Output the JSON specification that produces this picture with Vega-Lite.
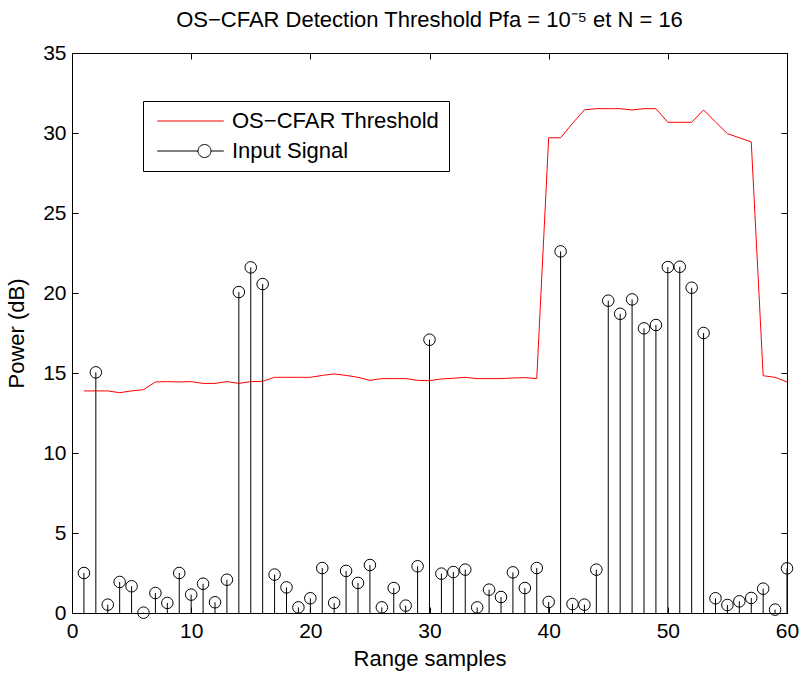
{
  "$schema": "https://vega.github.io/schema/vega-lite/v6.json",
  "width": 715,
  "height": 560,
  "autosize": {"type": "none"},
  "padding": {"left": 72, "top": 53, "right": 13, "bottom": 62},
  "background": "white",
  "title": {
    "text": "OS−CFAR Detection Threshold Pfa = 10⁻⁵ et N = 16",
    "font": "Liberation Sans",
    "fontSize": 22,
    "fontWeight": "normal",
    "color": "black",
    "anchor": "middle",
    "frame": "group",
    "baseline": "top",
    "offset": 0,
    "dy": -10
  },
  "config": {
    "view": {"stroke": "black", "strokeWidth": 1},
    "axis": {
      "domainColor": "black",
      "tickColor": "black",
      "labelColor": "black",
      "titleColor": "black",
      "labelFont": "Liberation Sans",
      "titleFont": "Liberation Sans",
      "labelFontSize": 21,
      "titleFontSize": 22,
      "titleFontWeight": "normal",
      "grid": false,
      "tickSize": -6,
      "labelFlush": false,
      "minExtent": 0
    }
  },
  "data": {
    "values": [
      {"x": 1, "signal": 2.5, "threshold": 13.88},
      {"x": 2, "signal": 15.04, "threshold": 13.88},
      {"x": 3, "signal": 0.52, "threshold": 13.88},
      {"x": 4, "signal": 1.94, "threshold": 13.77},
      {"x": 5, "signal": 1.67, "threshold": 13.88},
      {"x": 6, "signal": 0.02, "threshold": 13.96},
      {"x": 7, "signal": 1.25, "threshold": 14.44},
      {"x": 8, "signal": 0.63, "threshold": 14.46},
      {"x": 9, "signal": 2.5, "threshold": 14.44},
      {"x": 10, "signal": 1.15, "threshold": 14.46},
      {"x": 11, "signal": 1.83, "threshold": 14.35},
      {"x": 12, "signal": 0.67, "threshold": 14.35},
      {"x": 13, "signal": 2.08, "threshold": 14.46},
      {"x": 14, "signal": 20.06, "threshold": 14.35},
      {"x": 15, "signal": 21.6, "threshold": 14.46},
      {"x": 16, "signal": 20.56, "threshold": 14.48},
      {"x": 17, "signal": 2.4, "threshold": 14.73},
      {"x": 18, "signal": 1.6, "threshold": 14.73},
      {"x": 19, "signal": 0.35, "threshold": 14.73},
      {"x": 20, "signal": 0.92, "threshold": 14.73},
      {"x": 21, "signal": 2.81, "threshold": 14.85},
      {"x": 22, "signal": 0.63, "threshold": 14.94},
      {"x": 23, "signal": 2.63, "threshold": 14.85},
      {"x": 24, "signal": 1.88, "threshold": 14.73},
      {"x": 25, "signal": 3.0, "threshold": 14.54},
      {"x": 26, "signal": 0.35, "threshold": 14.65},
      {"x": 27, "signal": 1.56, "threshold": 14.65},
      {"x": 28, "signal": 0.46, "threshold": 14.65},
      {"x": 29, "signal": 2.92, "threshold": 14.54},
      {"x": 30, "signal": 17.08, "threshold": 14.52},
      {"x": 31, "signal": 2.46, "threshold": 14.63},
      {"x": 32, "signal": 2.56, "threshold": 14.67},
      {"x": 33, "signal": 2.71, "threshold": 14.73},
      {"x": 34, "signal": 0.35, "threshold": 14.65},
      {"x": 35, "signal": 1.46, "threshold": 14.65},
      {"x": 36, "signal": 1.0, "threshold": 14.65},
      {"x": 37, "signal": 2.54, "threshold": 14.69},
      {"x": 38, "signal": 1.56, "threshold": 14.71},
      {"x": 39, "signal": 2.81, "threshold": 14.65},
      {"x": 40, "signal": 0.69, "threshold": 29.7},
      {"x": 41, "signal": 22.6, "threshold": 29.7},
      {"x": 42, "signal": 0.56, "threshold": 30.6},
      {"x": 43, "signal": 0.52, "threshold": 31.45},
      {"x": 44, "signal": 2.71, "threshold": 31.52},
      {"x": 45, "signal": 19.52, "threshold": 31.52},
      {"x": 46, "signal": 18.7, "threshold": 31.52},
      {"x": 47, "signal": 19.6, "threshold": 31.44},
      {"x": 48, "signal": 17.79, "threshold": 31.52},
      {"x": 49, "signal": 18.0, "threshold": 31.52},
      {"x": 50, "signal": 21.62, "threshold": 30.67},
      {"x": 51, "signal": 21.64, "threshold": 30.67},
      {"x": 52, "signal": 20.33, "threshold": 30.67},
      {"x": 53, "signal": 17.5, "threshold": 31.44},
      {"x": 54, "signal": 0.92, "threshold": 30.69},
      {"x": 55, "signal": 0.5, "threshold": 29.96},
      {"x": 56, "signal": 0.73, "threshold": 29.7},
      {"x": 57, "signal": 0.94, "threshold": 29.44},
      {"x": 58, "signal": 1.52, "threshold": 14.83},
      {"x": 59, "signal": 0.21, "threshold": 14.73},
      {"x": 60, "signal": 2.79, "threshold": 14.44}
    ]
  },
  "layer": [
    {
      "mark": {"type": "rule", "color": "black", "strokeWidth": 1},
      "encoding": {
        "x": {"field": "x", "type": "quantitative", "scale": {"domain": [0, 60], "nice": false},
              "axis": {"orient": "bottom", "title": "Range samples", "values": [0, 10, 20, 30, 40, 50, 60], "labelPadding": 13, "titlePadding": 7}},
        "y": {"field": "signal", "type": "quantitative", "scale": {"domain": [0, 35], "nice": false},
              "axis": {"orient": "left", "title": "Power (dB)", "values": [0, 5, 10, 15, 20, 25, 30, 35], "labelPadding": 12, "titlePadding": 14}},
        "y2": {"datum": 0}
      }
    },
    {
      "mark": {"type": "point", "filled": false, "size": 133, "strokeWidth": 1, "opacity": 1},
      "encoding": {
        "x": {"field": "x", "type": "quantitative", "axis": null},
        "y": {"field": "signal", "type": "quantitative", "axis": null},
        "color": {"datum": "Input Signal", "type": "nominal"}
      }
    },
    {
      "mark": {"type": "line", "strokeWidth": 1},
      "encoding": {
        "x": {"field": "x", "type": "quantitative",
              "axis": {"orient": "top", "title": null, "labels": false, "values": [0, 10, 20, 30, 40, 50, 60]}},
        "y": {"field": "threshold", "type": "quantitative",
              "axis": {"orient": "right", "title": null, "labels": false, "values": [0, 5, 10, 15, 20, 25, 30, 35]}},
        "color": {
          "datum": "OS−CFAR Threshold",
          "type": "nominal",
          "scale": {"domain": ["OS−CFAR Threshold", "Input Signal"], "range": ["#ff0000", "#000000"]},
          "legend": {
            "title": null,
            "orient": "none",
            "legendX": 71,
            "legendY": 48,
            "strokeColor": "black",
            "fillColor": "white",
            "padding": 9,
            "labelFont": "Liberation Sans",
            "labelFontSize": 22,
            "labelColor": "black",
            "labelLimit": 0,
            "symbolSize": 400,
            "symbolStrokeWidth": 1,
            "labelOffset": 58,
            "rowPadding": 8,
            "encode": {
              "symbols": {
                "update": {
                  "shape": {"signal": "datum.value === 'Input Signal' ? 'M-0.58,0H3.5M4.8,0A0.65,0.65 0 1,1 3.5,0A0.65,0.65 0 1,1 4.8,0M4.8,0H6.08' : 'M-0.58,0H6.08'"},
                  "fill": {"value": "transparent"},
                  "strokeWidth": {"value": 1}
                }
              }
            }
          }
        }
      }
    }
  ],
  "resolve": {"axis": {"x": "independent", "y": "independent"}}
}
